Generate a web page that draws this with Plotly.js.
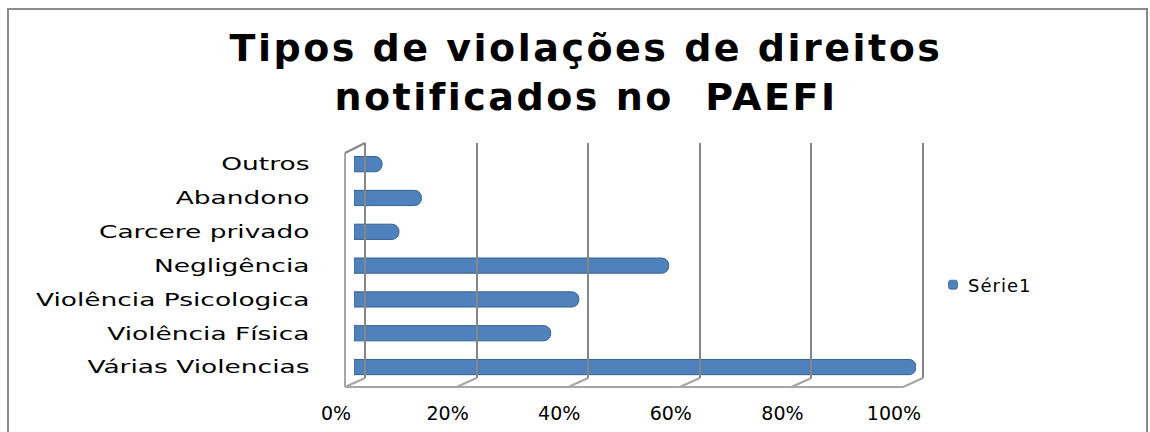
<!DOCTYPE html>
<html>
<head>
<meta charset="utf-8">
<script src="https://cdn.plot.ly/plotly-3.0.1.min.js"></script>
<style>
  html, body { margin: 0; padding: 0; background: #ffffff; }
  #chart { width: 1150px; height: 432px; }
  .gtitle { letter-spacing: 2.5px; }
  .xtick text { letter-spacing: 2px; }
  .legendtext { letter-spacing: 1px; translate: -10px 0; }
  .legendpoints path { scale: 0.75; }
  .subplot.xy .yaxislayer-above { scale: 1.47 1; transform-origin: 308px 0px; }
</style>
</head>
<body>
<div id="chart"></div>
<script>
// ---- data ----
const categories = ['Várias Violencias', 'Violência Física', 'Violência Psicologica', 'Negligência', 'Carcere privado', 'Abandono', 'Outros'];
const seriesValues = [100, 35, 40, 56, 8, 12, 5];
const seriesName = 'Série1';
const tickValues = [0, 20, 40, 60, 80, 100];
const tickLabels = ['0%', '20%', '40%', '60%', '80%', '100%'];
const chartTitle = 'Tipos de violações de direitos<br>notificados no\u00a0 PAEFI';

// ---- geometry helpers (pixels -> paper) ----
const W = 1150, H = 432;
const px = x => x / W;
const py = y => 1 - y / H;

const K = 5.58;               // frame pixels per percent
const BACK0 = 365, FRONT0 = 345;
const BACK_TOP = 143, BACK_BOT = 378, FRONT_TOP = 153, FRONT_BOT = 387;
const DX = BACK0 - FRONT0, DY = FRONT_BOT - BACK_BOT;
const PAD = 5;
const backEnd = BACK0 + 100 * K;

const FRAME = '#868686';
const FLOOR = '#a6a6a6';
const FONT = 'DejaVu Sans';

const traces = [
  {
    type: 'bar',
    orientation: 'h',
    x: seriesValues,
    y: categories,
    name: seriesName,
    xaxis: 'x', yaxis: 'y',
    marker: { color: '#4F81BD', line: { color: '#36618F', width: 1 }, cornerradius: 7 },
    hoverinfo: 'x+y'
  },
  { type: 'scatter', x: [], y: [], xaxis: 'x2', yaxis: 'y2', showlegend: false, hoverinfo: 'skip' },
  { type: 'scatter', x: [], y: [], xaxis: 'x3', yaxis: 'y3', showlegend: false, hoverinfo: 'skip' }
];

const shapes = [];
// depth connectors from back grid lines down to front floor
tickValues.forEach(v => {
  shapes.push({
    type: 'line', layer: 'below', xref: 'x3', yref: 'paper',
    xsizemode: 'pixel', ysizemode: 'pixel',
    xanchor: v, x0: 0, x1: DX,
    yanchor: py(FRONT_BOT), y0: 0, y1: DY,
    line: { color: FLOOR, width: 2 }
  });
});
// front floor edge
shapes.push({
  type: 'line', layer: 'below', xref: 'x3', yref: 'paper',
  x0: tickValues[0], x1: tickValues[tickValues.length - 1],
  y0: py(FRONT_BOT), y1: py(FRONT_BOT),
  line: { color: FLOOR, width: 2 }
});
// left wall: front vertical edge
shapes.push({
  type: 'line', layer: 'below', xref: 'x3', yref: 'paper',
  x0: tickValues[0], x1: tickValues[0],
  y0: py(FRONT_BOT), y1: py(FRONT_TOP),
  line: { color: FLOOR, width: 2 }
});
// left wall: top depth edge
shapes.push({
  type: 'line', layer: 'below', xref: 'x3', yref: 'paper',
  xsizemode: 'pixel', ysizemode: 'pixel',
  xanchor: tickValues[0], x0: 0, x1: DX,
  yanchor: py(FRONT_TOP), y0: 0, y1: FRONT_TOP - BACK_TOP,
  line: { color: FRAME, width: 2 }
});
// outer chart border
shapes.push({
  type: 'rect', layer: 'below', xref: 'paper', yref: 'paper',
  x0: px(8), x1: px(1147), y0: -0.2, y1: py(9),
  line: { color: '#8a8a8a', width: 2 }, fillcolor: 'rgba(0,0,0,0)'
});

const layout = {
  width: W, height: H,
  margin: { l: 0, r: 0, t: 0, b: 0, pad: 0 },
  paper_bgcolor: '#ffffff',
  plot_bgcolor: 'rgba(0,0,0,0)',
  showlegend: true,
  bargap: 0.55,
  title: {
    text: chartTitle,
    x: px(586), xanchor: 'center',
    yref: 'container', y: py(61), yanchor: 'top',
    font: { family: FONT, size: 38, color: '#000000', weight: 'bold' }
  },
  font: { family: FONT, size: 18, color: '#000000' },
  // bars
  xaxis: {
    domain: [px(354), px(916)], range: [0, 100], anchor: 'y',
    showgrid: false, zeroline: false, showticklabels: false, showline: false, ticks: '', fixedrange: true
  },
  yaxis: {
    domain: [py(FRONT_BOT), py(FRONT_TOP)], range: [-0.59, 6.33], anchor: 'x',
    type: 'category', categoryorder: 'array', categoryarray: categories,
    showgrid: false, zeroline: false, showline: false, ticks: '',
    ticklabelstandoff: 44, tickfont: { family: FONT, size: 18, color: '#000000' }, fixedrange: true
  },
  // back wall grid
  xaxis2: {
    domain: [px(BACK0 - PAD), px(backEnd + PAD)], range: [-PAD / K, 100 + PAD / K], anchor: 'y2',
    tickvals: tickValues, showticklabels: false, ticks: '',
    showgrid: true, gridcolor: FRAME, gridwidth: 2, zeroline: false, showline: false, fixedrange: true
  },
  yaxis2: {
    domain: [py(BACK_BOT), py(BACK_TOP)], range: [0, 1], anchor: 'x2',
    visible: false, showgrid: false, zeroline: false, fixedrange: true
  },
  // front floor / tick labels
  xaxis3: {
    domain: [px(FRONT0 - PAD), px(backEnd + PAD)], range: [-PAD / K, (backEnd + PAD - FRONT0) / K], anchor: 'y3',
    tickvals: tickValues, ticktext: tickLabels, ticks: '',
    ticklabelstandoff: 13, ticklabelshift: -9,
    tickfont: { family: FONT, size: 19, color: '#000000' },
    showgrid: false, zeroline: false, showline: false, fixedrange: true
  },
  yaxis3: {
    domain: [py(FRONT_BOT), py(FRONT_TOP)], range: [0, 1], anchor: 'x3',
    visible: false, showgrid: false, zeroline: false, fixedrange: true
  },
  legend: {
    x: px(938), xanchor: 'left', y: py(285), yanchor: 'middle',
    bgcolor: 'rgba(0,0,0,0)', font: { family: FONT, size: 18, color: '#000000' },
    itemwidth: 30
  },
  shapes: shapes
};

Plotly.newPlot('chart', traces, layout, { displayModeBar: false, staticPlot: true });
</script>
</body>
</html>
